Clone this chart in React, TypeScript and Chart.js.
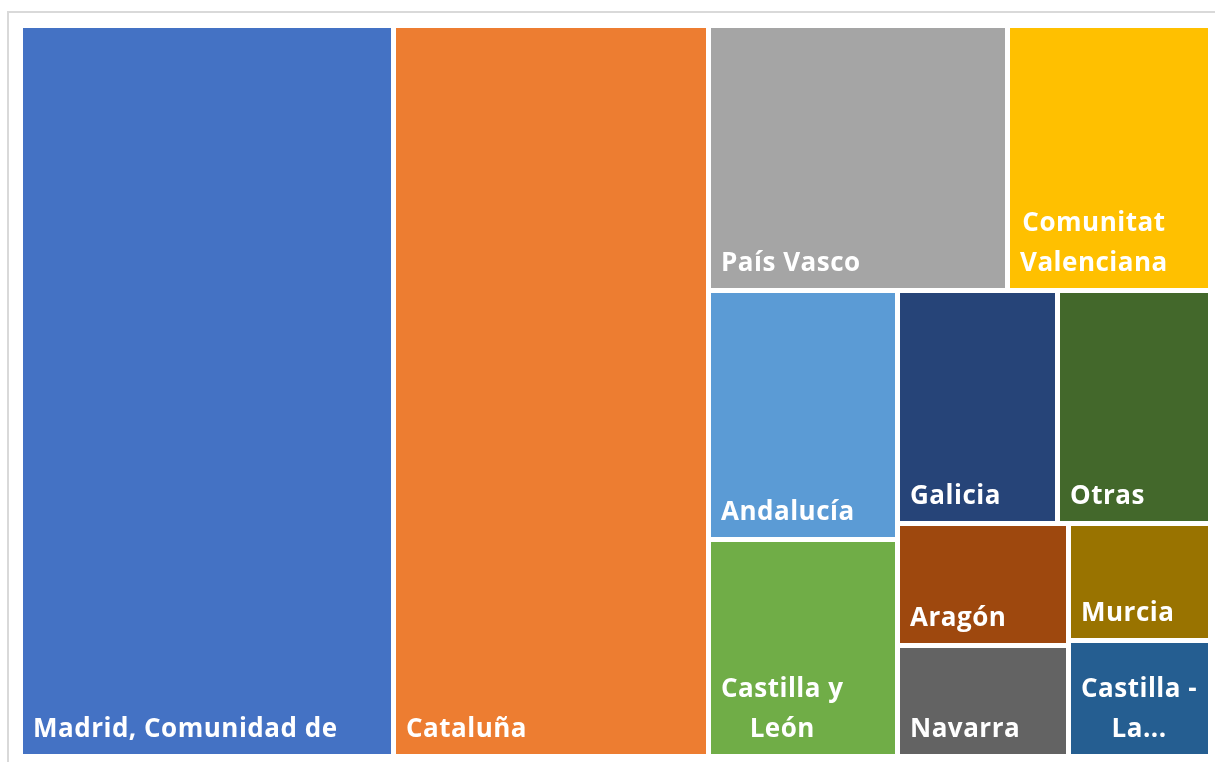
import React, { useEffect, useRef } from 'react';
import { Chart, registerables } from 'chart.js';

Chart.register(...registerables);

const categories = [
  'Madrid, Comunidad de',
  'Cataluña',
  'País Vasco',
  'Comunitat Valenciana',
  'Andalucía',
  'Castilla y León',
  'Galicia',
  'Aragón',
  'Navarra',
  'Murcia',
  'Castilla - La Mancha',
  'Otras',
];
const values = [31.4, 26.5, 9.1, 6.2, 5.4, 4.7, 4.3, 2.4, 2.2, 1.9, 1.9, 4.1];
const colors = [
  '#4472C4', '#ED7D31', '#A5A5A5', '#FFC000', '#5B9BD5', '#70AD47',
  '#264478', '#9E480E', '#636363', '#997300', '#255E91', '#43682B',
];
// number of cells in each successive strip of the layout
const stripSizes = [1, 1, 2, 2, 2, 2, 2];

const FONT = '700 26px "Open Sans", "Noto Sans", sans-serif';
const LINE_H = 40;
const PAD_X = 10;
const BASE_OFF = 17;
const CAP_H = 18;
const GAP = 2.5;

function wrapLabel(ctx: CanvasRenderingContext2D, text: string, maxW: number, maxLines: number): string[] {
  const words = text.split(' ');
  const lines: string[] = [];
  let cur = '';
  for (const w of words) {
    const t = cur ? cur + ' ' + w : w;
    if (ctx.measureText(t).width <= maxW || !cur) cur = t;
    else { lines.push(cur); cur = w; }
  }
  if (cur) lines.push(cur);
  if (lines.length > maxLines) {
    const kept = lines.slice(0, Math.max(1, maxLines));
    let last = kept[kept.length - 1];
    while (last.length > 0 && ctx.measureText(last + '...').width > maxW) last = last.slice(0, -1);
    kept[kept.length - 1] = last + '...';
    return kept;
  }
  return lines;
}

const treemapPlugin = {
  id: 'treemapCells',
  beforeDraw(chart: any) {
    const ctx = chart.ctx;
    ctx.save();
    ctx.fillStyle = '#ffffff';
    ctx.fillRect(0, 0, chart.width, chart.height);
    ctx.strokeStyle = '#d9d9d9';
    ctx.lineWidth = 2;
    ctx.beginPath();
    ctx.moveTo(8, chart.height + 5);
    ctx.lineTo(8, 12);
    ctx.lineTo(chart.width + 5, 12);
    ctx.stroke();
    ctx.restore();
  },
  afterDatasetsDraw(chart: any) {
    const xs = chart.scales.x;
    const ys = chart.scales.y;
    const area = chart.chartArea;
    const pw = area.right - area.left;
    const ph = area.bottom - area.top;
    const order = values.map((_, i) => i).sort((a, b) => values[b] - values[a] || a - b);
    let remaining = values.reduce((s, v) => s + v, 0);
    let rx = 0, ry = 0, rw = 1, rh = 1;
    let k = 0;
    const rects: { i: number; x: number; y: number; w: number; h: number }[] = [];
    for (let s = 0; s < stripSizes.length && k < order.length; s++) {
      const idx = order.slice(k, k + stripSizes[s]);
      k += idx.length;
      const last = k >= order.length;
      const sv = idx.reduce((acc, i) => acc + values[i], 0);
      const frac = last ? 1 : sv / remaining;
      let sx = rx, sy = ry, sw: number, sh: number;
      if (rw * pw >= rh * ph) {
        sw = rw * frac; sh = rh; rx += sw; rw -= sw;
      } else {
        sh = rh * frac; sw = rw; ry += sh; rh -= sh;
      }
      remaining -= sv;
      const vertical = sh * ph > sw * pw;
      let off = 0;
      for (const i of idx) {
        const f = values[i] / sv;
        if (vertical) rects.push({ i, x: sx, y: sy + off * sh, w: sw, h: sh * f });
        else rects.push({ i, x: sx + off * sw, y: sy, w: sw * f, h: sh });
        off += f;
      }
    }
    const ctx = chart.ctx;
    ctx.save();
    ctx.font = FONT;
    try { (ctx as any).letterSpacing = '0.5px'; } catch (e) { /* ignore */ }
    for (const r of rects) {
      const l = Math.round(xs.getPixelForValue(r.x) + GAP);
      const rt = Math.round(xs.getPixelForValue(r.x + r.w) - GAP);
      const t = Math.round(ys.getPixelForValue(r.y) + GAP);
      const b = Math.round(ys.getPixelForValue(r.y + r.h) - GAP);
      ctx.fillStyle = colors[r.i];
      ctx.fillRect(l, t, rt - l, b - t);
      const cw = rt - l;
      const chh = b - t;
      const maxLines = Math.max(1, 1 + Math.floor((chh - BASE_OFF - CAP_H - 4) / LINE_H));
      const lines = wrapLabel(ctx, categories[r.i], cw - 2 * PAD_X, maxLines);
      const blockW = Math.max(...lines.map((ln) => ctx.measureText(ln).width));
      const cx = l + PAD_X + blockW / 2;
      ctx.fillStyle = '#ffffff';
      ctx.textAlign = 'center';
      ctx.textBaseline = 'alphabetic';
      lines.forEach((ln, j) => {
        const y = b - BASE_OFF - (lines.length - 1 - j) * LINE_H;
        ctx.fillText(ln, cx, y);
      });
    }
    ctx.restore();
  },
};

export default function App() {
  const ref = useRef<HTMLCanvasElement | null>(null);
  useEffect(() => {
    if (!ref.current) return;
    const chart = new Chart(ref.current, {
      type: 'scatter',
      data: { datasets: [{ label: 'Regiones', data: [] }] },
      options: {
        animation: false,
        responsive: true,
        maintainAspectRatio: false,
        layout: { padding: { left: 20.5, top: 25.5, right: 4.5, bottom: 5.5 } },
        plugins: { legend: { display: false }, tooltip: { enabled: false } },
        scales: {
          x: { type: 'linear', min: 0, max: 1, display: false },
          y: { type: 'linear', min: 0, max: 1, reverse: true, display: false },
        },
      },
      plugins: [treemapPlugin],
    });
    return () => chart.destroy();
  }, []);
  return (
    <div style={{ position: 'fixed', left: 0, top: 0, width: 1215, height: 762 }}>
      <canvas ref={ref} />
    </div>
  );
}
